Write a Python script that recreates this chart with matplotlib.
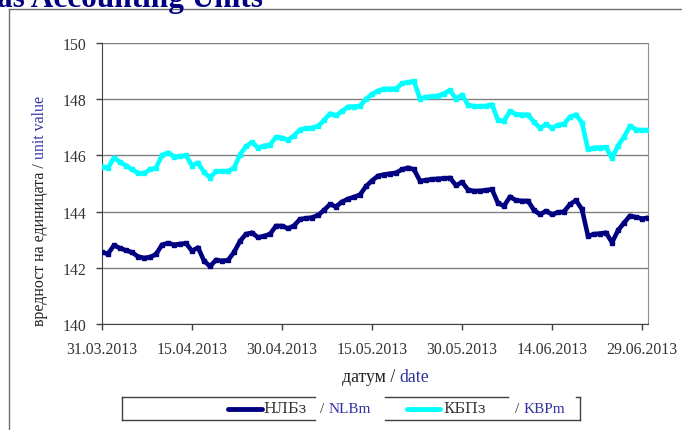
import matplotlib
matplotlib.use("Agg")
import matplotlib.pyplot as plt
from matplotlib.lines import Line2D
import numpy as np

plt.rcParams['font.family'] = ['Liberation Serif', 'DejaVu Serif']

# daily values from 31.03.2013 to 30.06.2013
start = np.datetime64('2013-03-31')
nlb = [142.55, 142.50, 142.80, 142.70, 142.62, 142.55, 142.40, 142.35, 142.38, 142.48,
       142.82, 142.88, 142.82, 142.85, 142.87, 142.60, 142.72, 142.25, 142.05, 142.28,
       142.25, 142.27, 142.55, 142.95, 143.20, 143.25, 143.08, 143.13, 143.20, 143.49,
       143.49, 143.40, 143.50, 143.73, 143.76, 143.79, 143.87, 144.05, 144.26, 144.18,
       144.35, 144.45, 144.52, 144.60, 144.90, 145.10, 145.27, 145.32, 145.35, 145.38,
       145.50, 145.56, 145.50, 145.09, 145.12, 145.15, 145.17, 145.18, 145.20, 144.93,
       145.05, 144.78, 144.73, 144.74, 144.76, 144.79, 144.30, 144.20, 144.53, 144.40,
       144.38, 144.38, 144.05, 143.90, 144.02, 143.90, 143.97, 144.00, 144.26, 144.40,
       144.08, 143.13, 143.20, 143.22, 143.25, 142.90, 143.33, 143.60, 143.85, 143.80,
       143.75, 143.78]
kbp = [145.60, 145.56, 145.92, 145.76, 145.64, 145.50, 145.38, 145.36, 145.50, 145.56,
       146.00, 146.10, 145.96, 145.97, 146.00, 145.64, 145.74, 145.40, 145.21, 145.43,
       145.44, 145.44, 145.55, 146.03, 146.32, 146.47, 146.27, 146.34, 146.38, 146.65,
       146.63, 146.55, 146.70, 146.92, 146.96, 146.98, 147.04, 147.25, 147.49, 147.42,
       147.57, 147.73, 147.74, 147.76, 148.00, 148.18, 148.30, 148.37, 148.37, 148.37,
       148.56, 148.60, 148.64, 148.01, 148.08, 148.10, 148.12, 148.20, 148.32, 148.01,
       148.16, 147.80, 147.75, 147.75, 147.76, 147.81, 147.25, 147.23, 147.57, 147.46,
       147.45, 147.45, 147.18, 146.98, 147.10, 146.98, 147.08, 147.12, 147.37, 147.45,
       147.16, 146.21, 146.27, 146.28, 146.29, 145.90, 146.35, 146.65, 147.05, 146.92,
       146.90, 146.90]
dates = start + np.arange(len(nlb))

tick_dates = ['2013-03-31', '2013-04-15', '2013-04-30', '2013-05-15',
              '2013-05-30', '2013-06-14', '2013-06-29']
tick_labels = ['31.03.2013', '15.04.2013', '30.04.2013', '15.05.2013',
               '30.05.2013', '14.06.2013', '29.06.2013']
yticks = [140, 142, 144, 146, 148, 150]

NAVY = '#000080'
CYAN = '#00FFFF'
BLUE = '#3333A0'
TXT = '#333333'

W, H = 682, 431
fig = plt.figure(figsize=(W / 100, H / 100), dpi=100)

def fx(px):
    return px / W

def fy(py):
    return 1 - py / H

# outer frame and cut-off heading
fig.add_artist(Line2D([fx(9), 1], [fy(10), fy(10)], color='#707070', lw=1))
fig.add_artist(Line2D([fx(9), fx(9)], [fy(10), 0], color='#707070', lw=1))
fig.text(fx(-3), fy(7), 'as Accounting Units', color=NAVY, fontsize=22.5,
         fontweight='bold', ha='left', va='baseline')

ax = fig.add_axes([fx(102), fy(325), fx(648 - 102), fy(44) - fy(325)])
ax.plot(dates, nlb, color=NAVY, lw=3.3, marker='s', ms=3, zorder=3)
ax.plot(dates, kbp, color=CYAN, lw=3.3, marker='s', ms=3, zorder=3)

ax.set_xlim(np.datetime64('2013-03-31'), np.datetime64('2013-06-30'))
ax.set_ylim(140, 150)
ax.set_yticks(yticks)
ax.set_xticks([np.datetime64(d) for d in tick_dates])
ax.set_xticklabels(tick_labels)
ax.yaxis.grid(True, color='#808080', lw=1)
ax.set_axisbelow(True)
ax.tick_params(axis='both', direction='out', length=4, width=1, color='#404040',
               labelsize=11.3, labelcolor=TXT)
ax.tick_params(axis='y', pad=7)
ax.tick_params(axis='x', pad=8)
for s in ['left', 'bottom']:
    ax.spines[s].set_color('#404040')
ax.spines['right'].set_color('#909090')
ax.spines['top'].set_visible(False)

fig.canvas.draw()
r = fig.canvas.get_renderer()

# y label in two colours
t1 = fig.text(fx(40), fy(326), 'вредност на единицата / ', rotation=90,
              fontsize=11.4, color='#222222', ha='center', va='bottom')
bb = t1.get_window_extent(r)
fig.text(fx(40), bb.y1 / H, 'unit value', rotation=90, fontsize=11.4,
         color=BLUE, ha='center', va='bottom')

# x label in two colours
t2 = fig.text(fx(342), fy(378), 'датум / ', fontsize=12.8, color='#222222',
              ha='left', va='center')
bb = t2.get_window_extent(r)
fig.text(bb.x1 / W, fy(378), 'date', fontsize=12.8, color=BLUE,
         ha='left', va='center')

# legend drawn like the original broken box
lc = '#404040'
top, bot = fy(398), fy(421)
for x0, x1 in [(122, 315), (385, 508)]:
    fig.add_artist(Line2D([fx(x0), fx(x1)], [top, top], color=lc, lw=1))
for x0, x1 in [(122, 315), (385, 580)]:
    fig.add_artist(Line2D([fx(x0), fx(x1)], [bot, bot], color=lc, lw=1))
fig.add_artist(Line2D([fx(122), fx(122)], [top, bot], color=lc, lw=1))
fig.add_artist(Line2D([fx(580), fx(580)], [top, bot], color=lc, lw=1))
fig.add_artist(Line2D([fx(576), fx(580)], [top, top], color=lc, lw=1))
ym = fy(409.5)
fig.add_artist(Line2D([fx(228), fx(262)], [ym, ym], color=NAVY, lw=3.5,
                      solid_capstyle='round'))
fig.add_artist(Line2D([fx(407), fx(440)], [ym, ym], color=CYAN, lw=3.5,
                      solid_capstyle='round'))
fig.text(fx(263), ym, 'НЛБз', fontsize=10.5, family='DejaVu Serif', color=TXT,
         ha='left', va='center')
fig.text(fx(443), ym, 'КБПз', fontsize=10.5, family='DejaVu Serif', color=TXT,
         ha='left', va='center')
for x0, s in [(320, 'NLBm'), (515, 'KBPm')]:
    t = fig.text(fx(x0), ym, '/ ', fontsize=11, color=TXT, ha='left', va='center')
    bb = t.get_window_extent(r)
    fig.text(bb.x1 / W, ym, s, fontsize=11, color=BLUE, ha='left', va='center')

fig.savefig('out.png', dpi=100)
